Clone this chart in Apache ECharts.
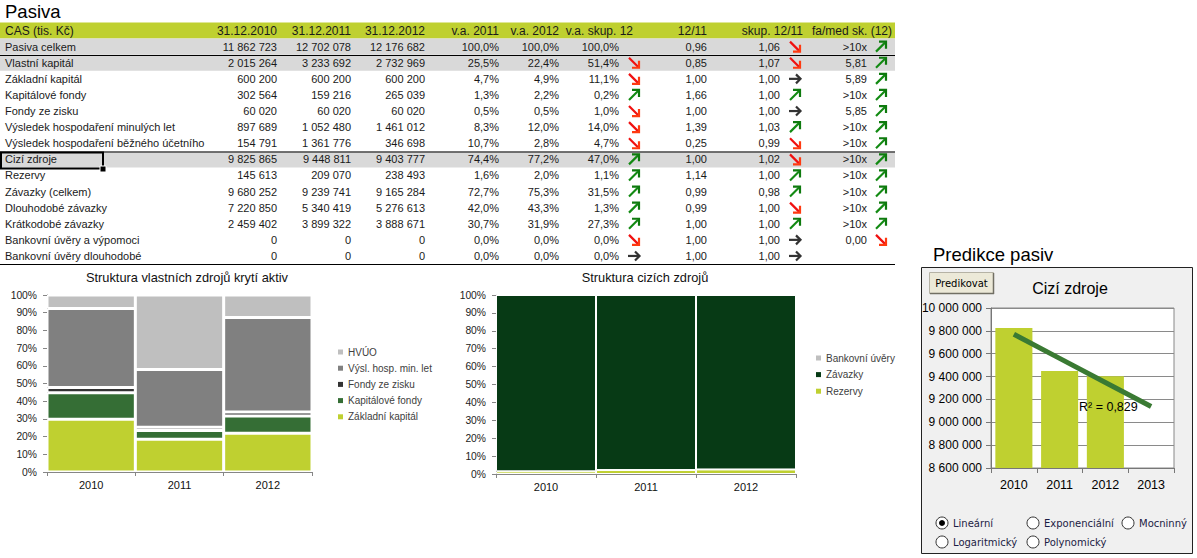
<!DOCTYPE html>
<html><head><meta charset="utf-8">
<script src="https://cdn.jsdelivr.net/npm/echarts@6/dist/echarts.min.js"></script>
<style>html,body{margin:0;padding:0;background:#fff}#c{width:1197px;height:558px}</style>
</head><body><div id="c"></div><script>
// ---------- DATA ----------
const headerLabels = ['CAS (tis. Kč)', '31.12.2010', '31.12.2011', '31.12.2012', 'v.a. 2011', 'v.a. 2012', 'v.a. skup. 12', '12/11', 'skup. 12/11', 'fa/med sk. (12)'];
const rowLabels = ['Pasiva celkem', 'Vlastní kapitál', 'Základní kapitál', 'Kapitálové fondy', 'Fondy ze zisku',
  'Výsledek hospodaření minulých let', 'Výsledek hospodaření běžného účetního', 'Cizí zdroje', 'Rezervy',
  'Závazky (celkem)', 'Dlouhodobé závazky', 'Krátkodobé závazky', 'Bankovní úvěry a výpomoci', 'Bankovní úvěry dlouhodobé'];
const col2010 = [11862723, 2015264, 600200, 302564, 60020, 897689, 154791, 9825865, 145613, 9680252, 7220850, 2459402, 0, 0];
const col2011 = [12702078, 3233692, 600200, 159216, 60020, 1052480, 1361776, 9448811, 209070, 9239741, 5340419, 3899322, 0, 0];
const col2012 = [12176682, 2732969, 600200, 265039, 60020, 1461012, 346698, 9403777, 238493, 9165284, 5276613, 3888671, 0, 0];
const va2011 = [100.0, 25.5, 4.7, 1.3, 0.5, 8.3, 10.7, 74.4, 1.6, 72.7, 42.0, 30.7, 0.0, 0.0];
const va2012 = [100.0, 22.4, 4.9, 2.2, 0.5, 12.0, 2.8, 77.2, 2.0, 75.3, 43.3, 31.9, 0.0, 0.0];
const vaSkup = [100.0, 51.4, 11.1, 0.2, 1.0, 14.0, 4.7, 47.0, 1.1, 31.5, 1.3, 27.3, 0.0, 0.0];
const vaSkupArrow = ['', 'down', 'down', 'up', 'down', 'down', 'down', 'up', 'up', 'up', 'up', 'up', 'down', 'right'];
const ratio1211 = [0.96, 0.85, 1.00, 1.66, 1.00, 1.39, 0.25, 1.00, 1.14, 0.99, 0.99, 1.00, 1.00, 1.00];
const skup1211 = [1.06, 1.07, 1.00, 1.00, 1.00, 1.03, 0.99, 1.02, 1.00, 0.98, 1.00, 1.00, 1.00, 1.00];
const skupArrow = ['down', 'down', 'right', 'up', 'right', 'up', 'down', 'down', 'up', 'up', 'down', 'up', 'right', 'right'];
const faMed = ['>10x', '5,81', '5,89', '>10x', '5,85', '>10x', '>10x', '>10x', '>10x', '>10x', '>10x', '>10x', '0,00', ''];
const faMedArrow = ['up', 'up', 'up', 'up', 'up', 'up', 'up', 'up', 'up', 'up', 'up', 'up', 'down', ''];

const years3 = ['2010', '2011', '2012'];
const years4 = ['2010', '2011', '2012', '2013'];
const ownNames = ['Základní kapitál', 'Kapitálové fondy', 'Fondy ze zisku', 'Výsl. hosp. min. let', 'HVÚO'];
const ownRows = [2, 3, 4, 5, 6];
const foreignNames = ['Rezervy', 'Závazky', 'Bankovní úvěry'];
const foreignRows = [8, 9, 12];
const predictValues = [col2010[7], col2011[7], col2012[7], null];
const trendValues = [9770528, 9559484, 9348440, 9137396];
const yTicks3 = {min: 8600000, max: 10000000, step: 200000};

// ---------- HELPERS ----------
const F = '"Liberation Sans", Arial, sans-serif';
const T = '"DejaVu Sans", Tahoma, sans-serif';
const fmtInt = n => String(n).replace(/\B(?=(\d{3})+(?!\d))/g, ' ');
const fmtPct = n => n.toFixed(1).replace('.', ',') + '%';
const fmtR = n => n.toFixed(2).replace('.', ',');

function txt(text, x, y, opt) {
  opt = opt || {};
  return {type: 'text', z: opt.z || 5, silent: true, style: {
    text: text, x: x, y: y, font: opt.font || ('11px ' + F), fill: opt.fill || '#1a1a1a',
    textAlign: opt.align || 'left', align: opt.align || 'left',
    textVerticalAlign: 'middle', verticalAlign: 'middle'}};
}
function ln(x1, y1, x2, y2, stroke, w, z) {
  return {type: 'line', z: z || 4, silent: true, shape: {x1, y1, x2, y2}, style: {stroke: stroke, lineWidth: w || 1}};
}
function arrow(kind, cx, cy) {
  const out = [];
  const w = 2.2;
  if (kind === 'down') {
    const c = '#F01010';
    out.push({type: 'line', z: 6, shape: {x1: cx - 5, y1: cy - 5, x2: cx + 4, y2: cy + 4}, style: {stroke: c, lineWidth: w}});
    out.push({type: 'polyline', z: 6, shape: {points: [[cx + 5, cy - 2], [cx + 5, cy + 5], [cx - 2, cy + 5]]}, style: {stroke: '#FF3A10', lineWidth: w, fill: null}});
  } else if (kind === 'up') {
    const c = '#128A12';
    out.push({type: 'line', z: 6, shape: {x1: cx - 5, y1: cy + 5, x2: cx + 4, y2: cy - 4}, style: {stroke: c, lineWidth: w}});
    out.push({type: 'polyline', z: 6, shape: {points: [[cx - 2, cy - 5], [cx + 5, cy - 5], [cx + 5, cy + 2]]}, style: {stroke: '#0E7A0E', lineWidth: w, fill: null}});
  } else if (kind === 'right') {
    const c = '#333';
    out.push({type: 'line', z: 6, shape: {x1: cx - 6, y1: cy, x2: cx + 5, y2: cy}, style: {stroke: c, lineWidth: w}});
    out.push({type: 'polyline', z: 6, shape: {points: [[cx + 1, cy - 4.5], [cx + 5.5, cy], [cx + 1, cy + 4.5]]}, style: {stroke: c, lineWidth: w, fill: null}});
  }
  return out;
}

// ---------- TABLE (graphic) ----------
const els = [];
const rowH = 16.1, top0 = 22.5, tableW = 895;
const colRight = [null, 277, 351, 425, 499, 559, 633, 707, 803, 892];
const valRight = [null, 277, 351, 425, 499, 559, 619, 707, 780, 867];
const arrowX = {vaSkup: 634, skup: 795, fa: 881};

els.push(txt('Pasiva', 5, 11, {font: '18.5px ' + F, fill: '#000'}));
els.push({type: 'rect', z: 1, shape: {x: 0, y: top0, width: tableW, height: rowH}, style: {fill: '#BFD030'}});
headerLabels.forEach((h, i) => {
  if (i === 0) els.push(txt(h, 5, top0 + rowH / 2, {font: '12px ' + F}));
  else els.push(txt(h, colRight[i], top0 + rowH / 2, {font: '12px ' + F, align: 'right'}));
});
[0, 1, 7].forEach(r => {
  els.push({type: 'rect', z: 1, shape: {x: 0, y: top0 + rowH * (r + 1), width: tableW, height: rowH}, style: {fill: '#D9D9D9'}});
});
els.push(ln(0, 55.5, tableW, 55.5, '#000', 1.2));
els.push(ln(0, 152, tableW, 152, '#000', 1.2));
els.push(ln(0, 264.5, tableW, 264.5, '#000', 1.2));

rowLabels.forEach((lab, r) => {
  const cy = top0 + rowH * (r + 1) + rowH / 2;
  els.push(txt(lab, 5, cy));
  els.push(txt(fmtInt(col2010[r]), valRight[1], cy, {align: 'right'}));
  els.push(txt(fmtInt(col2011[r]), valRight[2], cy, {align: 'right'}));
  els.push(txt(fmtInt(col2012[r]), valRight[3], cy, {align: 'right'}));
  els.push(txt(fmtPct(va2011[r]), valRight[4], cy, {align: 'right'}));
  els.push(txt(fmtPct(va2012[r]), valRight[5], cy, {align: 'right'}));
  els.push(txt(fmtPct(vaSkup[r]), valRight[6], cy, {align: 'right'}));
  els.push(txt(fmtR(ratio1211[r]), valRight[7], cy, {align: 'right'}));
  els.push(txt(fmtR(skup1211[r]), valRight[8], cy, {align: 'right'}));
  if (faMed[r]) els.push(txt(faMed[r], valRight[9], cy, {align: 'right'}));
  arrow(vaSkupArrow[r], arrowX.vaSkup, cy).forEach(e => els.push(e));
  arrow(skupArrow[r], arrowX.skup, cy).forEach(e => els.push(e));
  arrow(faMedArrow[r], arrowX.fa, cy).forEach(e => els.push(e));
});
// active cell frame (Cizí zdroje)
els.push({type: 'rect', z: 7, shape: {x: 1, y: 152.5, width: 102, height: 16}, style: {fill: null, stroke: '#000', lineWidth: 2}});
els.push({type: 'rect', z: 8, shape: {x: 100, y: 166, width: 6, height: 6}, style: {fill: '#000', stroke: '#fff', lineWidth: 1}});

// chart titles
els.push(txt('Struktura vlastních zdrojů krytí aktiv', 187, 277, {font: '12.8px ' + F, align: 'center', fill: '#111'}));
els.push(txt('Struktura cizích zdrojů', 645, 277, {font: '12.8px ' + F, align: 'center', fill: '#111'}));

// prediction panel
els.push(txt('Predikce pasiv', 933, 254, {font: '18.5px ' + F, fill: '#000'}));
els.push({type: 'rect', z: -10, shape: {x: 921.5, y: 267.5, width: 271, height: 286}, style: {fill: '#F0F0F0', stroke: '#222', lineWidth: 1}});
els.push({type: 'rect', z: 3, shape: {x: 929.5, y: 272.5, width: 64, height: 21}, style: {fill: '#ECE9D8', stroke: '#B5B2A5', lineWidth: 1}});
els.push(ln(930, 293.5, 994, 293.5, '#716F64', 1.5, 4));
els.push(ln(993.5, 273, 993.5, 294, '#716F64', 1.5, 4));
els.push(txt('Predikovat', 961.5, 283, {font: '10px ' + T, align: 'center', fill: '#000'}));
els.push(txt('Cizí zdroje', 1070, 288, {font: '16px ' + F, align: 'center', fill: '#000'}));
els.push(txt('R² = 0,829', 1079, 407, {font: '12.5px ' + F, fill: '#000'}));
const radios = [['Lineární', 942, 523, true], ['Exponenciální', 1033, 523, false], ['Mocninný', 1128, 523, false],
  ['Logaritmický', 942, 542, false], ['Polynomický', 1033, 542, false]];
radios.forEach(rd => {
  els.push({type: 'circle', z: 5, shape: {cx: rd[1], cy: rd[2], r: 6}, style: {fill: '#fff', stroke: '#333', lineWidth: 1}});
  if (rd[3]) els.push({type: 'circle', z: 6, shape: {cx: rd[1], cy: rd[2], r: 3}, style: {fill: '#000'}});
  els.push(txt(rd[0], rd[1] + 11, rd[2], {font: '10px ' + T, fill: '#1c1c44'}));
});

// ---------- CHART SERIES ----------
const ownTotals = [col2010[1], col2011[1], col2012[1]];
const forTotals = [col2010[7], col2011[7], col2012[7]];
const ownColors = ['#BFD030', '#356E35', '#333333', '#808080', '#BFBFBF'];
const forColors = ['#BFD030', '#073A15', '#BFBFBF'];
const cols = [col2010, col2011, col2012];

const series = [];
ownNames.forEach((n, k) => {
  series.push({name: n, type: 'bar', xAxisIndex: 0, yAxisIndex: 0, stack: 'own', barCategoryGap: '0%',
    itemStyle: {color: ownColors[k], borderColor: '#fff', borderWidth: 1.5},
    data: cols.map((c, j) => c[ownRows[k]] / ownTotals[j])});
});
foreignNames.forEach((n, k) => {
  series.push({name: n, type: 'bar', xAxisIndex: 1, yAxisIndex: 1, stack: 'for', barCategoryGap: '0%',
    itemStyle: {color: forColors[k], borderColor: '#fff', borderWidth: 1},
    data: cols.map((c, j) => c[foreignRows[k]] / forTotals[j])});
});
series.push({name: 'Cizí zdroje', type: 'bar', xAxisIndex: 2, yAxisIndex: 2, barCategoryGap: '19%',
  itemStyle: {color: '#BFD030'}, data: predictValues, z: 3});
series.push({name: 'Lineární (Cizí zdroje)', type: 'line', xAxisIndex: 2, yAxisIndex: 2, symbol: 'none',
  lineStyle: {color: '#3A7A33', width: 5}, data: trendValues, z: 4});

const axLine = {show: true, lineStyle: {color: '#868686', width: 1}};
const pctAxis = (gi) => ({gridIndex: gi, type: 'value', min: 0, max: 1, interval: 0.1,
  axisLine: axLine, axisTick: {show: true, length: 4, lineStyle: {color: '#868686'}},
  splitLine: {show: false},
  axisLabel: {formatter: v => Math.round(v * 100) + '%', fontSize: 10.3, color: '#222', fontFamily: F, margin: 10}});
const catAxis = (gi, data) => ({gridIndex: gi, type: 'category', data: data,
  axisLine: axLine, axisTick: {show: true, length: 4, lineStyle: {color: '#868686'}},
  axisLabel: {fontSize: 11, color: '#111', fontFamily: F, margin: 7}});

const option = {
  animation: false,
  backgroundColor: '#fff',
  grid: [
    {left: 47, top: 295, width: 265, height: 177},
    {left: 496, top: 295, width: 300, height: 179},
    {left: 991, top: 308, width: 183, height: 160, show: true, backgroundColor: '#fff', borderColor: '#888', borderWidth: 1}
  ],
  xAxis: [
    catAxis(0, years3),
    catAxis(1, years3),
    {gridIndex: 2, type: 'category', data: years4, axisLine: {show: true, lineStyle: {color: '#777'}},
      axisTick: {show: true, length: 5, lineStyle: {color: '#777'}},
      axisLabel: {fontSize: 12.5, color: '#000', fontFamily: F, margin: 10}}
  ],
  yAxis: [
    pctAxis(0), pctAxis(1),
    {gridIndex: 2, type: 'value', min: yTicks3.min, max: yTicks3.max, interval: yTicks3.step,
      axisLine: {show: true, lineStyle: {color: '#777'}}, axisTick: {show: true, length: 5, lineStyle: {color: '#777'}},
      splitLine: {show: true, lineStyle: {color: '#8a8a8a'}},
      axisLabel: {formatter: v => fmtInt(v), fontSize: 12, color: '#000', fontFamily: F, margin: 9}}
  ],
  legend: [
    {data: ['HVÚO', 'Výsl. hosp. min. let', 'Fondy ze zisku', 'Kapitálové fondy', 'Základní kapitál'],
      orient: 'vertical', left: 333, top: 341, itemWidth: 5, itemHeight: 5, itemGap: 4.2, icon: 'rect',
      selectedMode: false, itemStyle: {borderWidth: 0},
      textStyle: {fontSize: 10, color: '#404040', fontFamily: F, lineHeight: 12}},
    {data: ['Bankovní úvěry', 'Závazky', 'Rezervy'],
      orient: 'vertical', left: 811, top: 347, itemWidth: 5, itemHeight: 5, itemGap: 4.6, icon: 'rect',
      selectedMode: false, itemStyle: {borderWidth: 0},
      textStyle: {fontSize: 10, color: '#404040', fontFamily: F, lineHeight: 12}}
  ],
  graphic: {elements: els},
  series: series
};

const chart = echarts.init(document.getElementById('c'), null, {renderer: 'svg', width: 1197, height: 558});
chart.setOption(option);
</script></body></html>
